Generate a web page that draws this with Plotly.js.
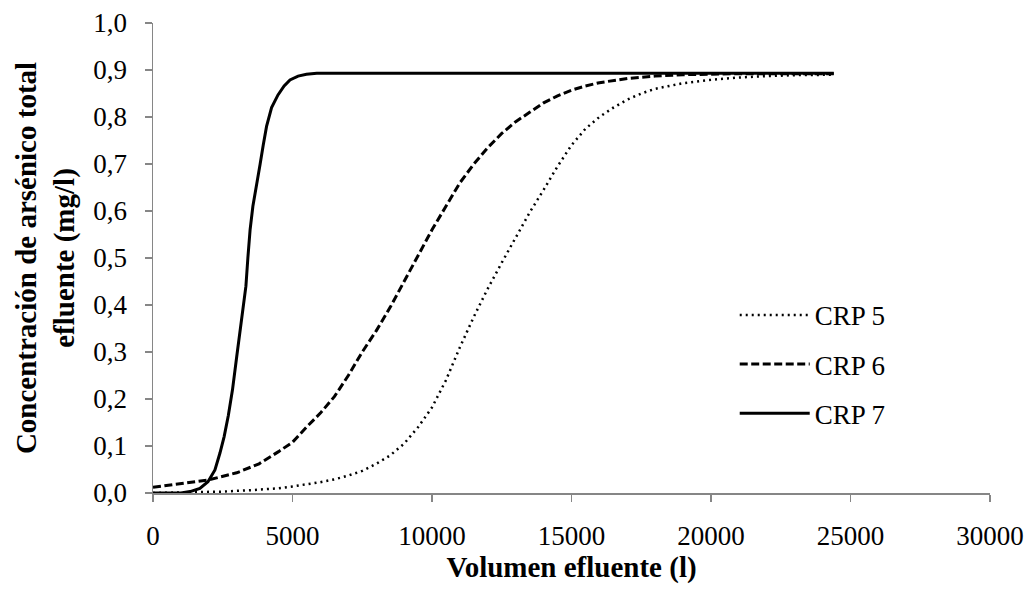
<!DOCTYPE html>
<html>
<head>
<meta charset="utf-8">
<script src="https://cdn.plot.ly/plotly-3.0.1.min.js"></script>
<style>html,body{margin:0;padding:0;background:#fff;}#chart{width:1030px;height:590px;}</style>
</head>
<body>
<div id="chart"></div>
<script>
// CRP 5 (dotted)
const crp5X = [0, 1500, 2500, 3500, 4500, 5000, 5500, 6000, 6500, 7000, 7500, 8000, 8500, 9000, 9500, 10000, 10500, 11000, 11500, 12000, 12500, 13000, 13500, 14000, 14500, 15000, 15500, 16000, 16500, 17000, 17500, 18000, 19000, 20000, 21000, 22000, 23000, 24400];
const crp5Y = [0.0, 0.001, 0.003, 0.006, 0.010, 0.014, 0.018, 0.023, 0.029, 0.037, 0.047, 0.062, 0.080, 0.105, 0.140, 0.182, 0.240, 0.310, 0.375, 0.435, 0.490, 0.545, 0.597, 0.645, 0.695, 0.740, 0.775, 0.800, 0.820, 0.837, 0.850, 0.860, 0.872, 0.879, 0.884, 0.887, 0.889, 0.890];
// CRP 6 (dashed)
const crp6X = [0, 1000, 2000, 3000, 3800, 4500, 5000, 5500, 6000, 6500, 7000, 7500, 8000, 8500, 9000, 9500, 10000, 10500, 11000, 11500, 12000, 12500, 13000, 13500, 14000, 14500, 15000, 15500, 16000, 17000, 18000, 19000, 20800, 24400];
const crp6Y = [0.012, 0.020, 0.028, 0.043, 0.062, 0.088, 0.108, 0.140, 0.170, 0.205, 0.250, 0.300, 0.345, 0.395, 0.450, 0.505, 0.560, 0.610, 0.660, 0.700, 0.735, 0.765, 0.790, 0.810, 0.830, 0.845, 0.857, 0.866, 0.873, 0.882, 0.887, 0.890, 0.892, 0.892];
// CRP 7 (solid)
const crp7X = [0, 1000, 1330, 1680, 1970, 2220, 2400, 2550, 2700, 2850, 3000, 3120, 3230, 3330, 3400, 3480, 3580, 3690, 3840, 3950, 4070, 4250, 4480, 4700, 4910, 5200, 5500, 5870, 24400];
const crp7Y = [0.0, 0.0, 0.003, 0.010, 0.024, 0.049, 0.085, 0.120, 0.165, 0.220, 0.290, 0.347, 0.400, 0.440, 0.500, 0.560, 0.610, 0.645, 0.700, 0.740, 0.780, 0.820, 0.847, 0.866, 0.879, 0.887, 0.891, 0.893, 0.893];

const seriesNames = ['CRP 5', 'CRP 6', 'CRP 7'];
const xTicks = [0, 5000, 10000, 15000, 20000, 25000, 30000];
const yTicks = [0, 0.1, 0.2, 0.3, 0.4, 0.5, 0.6, 0.7, 0.8, 0.9, 1.0];

const serif = 'Liberation Serif';

const traces = [
  {x: crp5X, y: crp5Y, name: seriesNames[0], legendgroup: 'a', mode: 'lines', line: {color: '#000', width: 2.5, dash: '2px,4px'}},
  {x: crp6X, y: crp6Y, name: seriesNames[1], legendgroup: 'b', mode: 'lines', line: {color: '#000', width: 3, dash: '8px,3.5px'}},
  {x: crp7X, y: crp7Y, name: seriesNames[2], legendgroup: 'c', mode: 'lines', line: {color: '#000', width: 3}}
];

const layout = {
  width: 1030, height: 590,
  margin: {l: 153, r: 40, t: 23, b: 97},
  paper_bgcolor: '#fff', plot_bgcolor: '#fff',
  separators: ', ',
  font: {family: serif, size: 27, color: '#000'},
  showlegend: true,
  legend: {x: 0.695, y: 0.43, xanchor: 'left', yanchor: 'top', bgcolor: 'rgba(0,0,0,0)', traceorder: 'grouped', tracegroupgap: 11,
           font: {family: serif, size: 27, color: '#000'}, itemwidth: 70},
  xaxis: {
    range: [0, 30000], tickvals: xTicks, tickformat: 'd',
    showgrid: false, zeroline: false, showline: true, linecolor: '#868686', linewidth: 1.5,
    ticks: 'outside', ticklen: 7, tickcolor: '#868686', tickwidth: 1.5, ticklabelstandoff: 11,
    tickfont: {family: serif, size: 27, color: '#000'},
    title: {text: '<b>Volumen efluente (l)</b>', font: {family: serif, size: 29, color: '#000'}, standoff: 6}
  },
  yaxis: {
    range: [0, 1.0], tickvals: yTicks, tickformat: '.1f',
    showgrid: false, zeroline: false, showline: true, linecolor: '#868686', linewidth: 1.5,
    ticks: 'outside', ticklen: 7, tickcolor: '#868686', tickwidth: 1.5, ticklabelstandoff: 12,
    tickfont: {family: serif, size: 27, color: '#000'},
    title: {text: '<b>Concentración de arsénico total<br>efluente (mg/l)</b>', font: {family: serif, size: 29, color: '#000'}, standoff: 10}
  }
};

Plotly.newPlot('chart', traces, layout, {displayModeBar: false, staticPlot: true});
</script>
</body>
</html>
